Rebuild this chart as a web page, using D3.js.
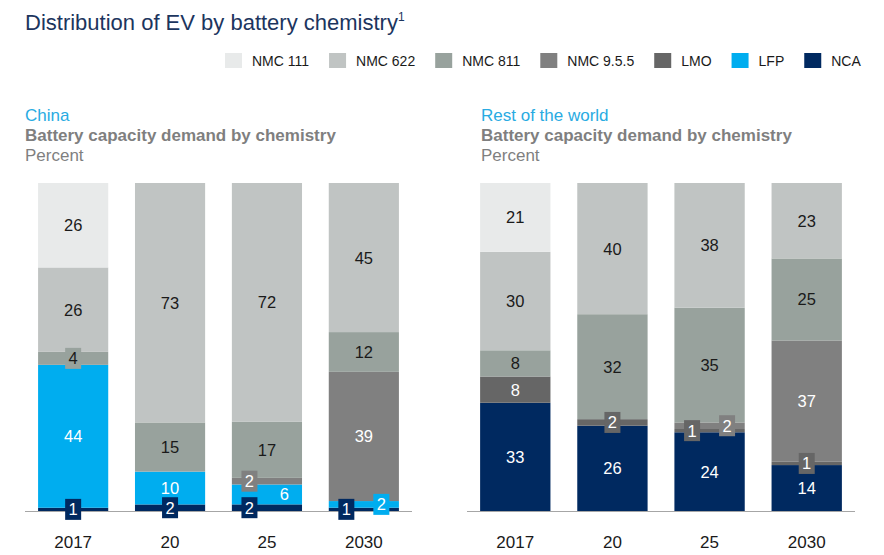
<!DOCTYPE html>
<html><head><meta charset="utf-8">
<script src="https://cdn.jsdelivr.net/npm/d3@7"></script>
<style>
body{margin:0;background:#fff;}
svg{font-family:"Liberation Sans",Arial,sans-serif;}
</style></head>
<body><svg id="c" width="884" height="555"></svg>
<script>
// ---- data ----
const years = ["2017", "20", "25", "2030"];
const chemistries = ["NMC 111", "NMC 622", "NMC 811", "NMC 9.5.5", "LMO", "LFP", "NCA"];
const colors = ["#e8eaea", "#c0c4c3", "#98a29d", "#808080", "#666666", "#00adef", "#002960"];

// China (percent)
const chinaNMC111 = [26, 0, 0, 0];
const chinaNMC622 = [26, 73, 72, 45];
const chinaNMC811 = [4, 15, 17, 12];
const chinaNMC955 = [0, 0, 2, 39];
const chinaLMO    = [0, 0, 0, 0];
const chinaLFP    = [44, 10, 6, 2];
const chinaNCA    = [1, 2, 2, 1];

// Rest of the world (percent)
const rowNMC111 = [21, 0, 0, 0];
const rowNMC622 = [30, 40, 38, 23];
const rowNMC811 = [8, 32, 35, 25];
const rowNMC955 = [0, 0, 2, 37];
const rowLMO    = [8, 2, 1, 1];
const rowLFP    = [0, 0, 0, 0];
const rowNCA    = [33, 26, 24, 14];

// label side placement for crowded segments
const labelSide = {
  "China|25|NMC 9.5.5": -1, "China|25|LFP": 1, "China|25|NCA": -1,
  "China|2030|NCA": -1, "China|2030|LFP": 1,
  "Rest of the world|25|LMO": -1, "Rest of the world|25|NMC 9.5.5": 1
};

const panels = [
  {name: "China", series: [chinaNMC111, chinaNMC622, chinaNMC811, chinaNMC955, chinaLMO, chinaLFP, chinaNCA], x0: 25, x1: 412, tx: 25},
  {name: "Rest of the world", series: [rowNMC111, rowNMC622, rowNMC811, rowNMC955, rowLMO, rowLFP, rowNCA], x0: 467, x1: 855, tx: 481}
];

const svg = d3.select("#c");
const color = d3.scaleOrdinal().domain(chemistries).range(colors);
const darkText = new Set(["NMC 111", "NMC 622", "NMC 811"]);

// title
const t = svg.append("text").attr("x", 25).attr("y", 30).attr("fill", "#1c355e")
  .style("font-size", "22px").text("Distribution of EV by battery chemistry");
t.append("tspan").attr("dy", -9).style("font-size", "12px").text("1");

// legend
let lx = 225;
chemistries.forEach(c => {
  svg.append("rect").attr("x", lx).attr("y", 53).attr("width", 17).attr("height", 15).attr("fill", color(c));
  const tx = svg.append("text").attr("x", lx + 27).attr("y", 66).attr("fill", "#1a1a1a")
    .style("font-size", "14px").text(c);
  lx = lx + 27 + tx.node().getComputedTextLength() + 20;
});

const y = d3.scaleLinear().domain([0, 1]).range([511, 183]);
const stackKeys = chemistries.slice().reverse(); // bottom to top

panels.forEach(p => {
  const g = svg.append("g");
  g.append("text").attr("x", p.tx).attr("y", 121).attr("fill", "#29abe2").style("font-size", "17px").text(p.name);
  g.append("text").attr("x", p.tx).attr("y", 141).attr("fill", "#7f7f7f").style("font-size", "17px")
    .style("font-weight", "bold").text("Battery capacity demand by chemistry");
  g.append("text").attr("x", p.tx).attr("y", 161).attr("fill", "#7f7f7f").style("font-size", "17px").text("Percent");

  const rows = years.map((yr, i) => {
    const o = {year: yr};
    chemistries.forEach((c, k) => o[c] = p.series[k][i]);
    return o;
  });
  const stack = d3.stack().keys(stackKeys).offset(d3.stackOffsetExpand);
  const layers = stack(rows);

  const x = d3.scaleBand().domain(years).range([p.x0, p.x1]).paddingInner(0.276).paddingOuter(0.135);

  layers.forEach(layer => {
    const key = layer.key;
    layer.forEach((d, i) => {
      const v = rows[i][key];
      if (!v) return;
      g.append("rect").attr("x", x(years[i])).attr("width", x.bandwidth())
        .attr("y", y(d[1])).attr("height", y(d[0]) - y(d[1])).attr("fill", color(key));
    });
  });

  // axis line
  g.append("line").attr("x1", p.x0).attr("x2", p.x1).attr("y1", 511.5).attr("y2", 511.5)
    .attr("stroke", "#a6a6a6").attr("stroke-width", 1);

  // labels
  layers.forEach(layer => {
    const key = layer.key;
    layer.forEach((d, i) => {
      const v = rows[i][key];
      if (!v) return;
      const side = labelSide[p.name + "|" + years[i] + "|" + key] || 0;
      const cx = x(years[i]) + x.bandwidth() / 2 + side * 17.5;
      const cy = (y(d[0]) + y(d[1])) / 2;
      const boxed = v <= 4;
      if (boxed) {
        g.append("rect").attr("x", cx - 8).attr("y", cy - 10.5).attr("width", 16).attr("height", 21)
          .attr("fill", color(key));
      }
      g.append("text").attr("x", cx).attr("y", cy + 6).attr("text-anchor", "middle")
        .style("font-size", "16.5px")
        .attr("fill", darkText.has(key) ? "#1a1a1a" : "#ffffff").text(v);
    });
  });

  // x tick labels
  g.selectAll(".tick").data(years).enter().append("text")
    .attr("x", d => x(d) + x.bandwidth() / 2).attr("y", 548).attr("text-anchor", "middle")
    .attr("fill", "#1a1a1a").style("font-size", "17px").text(d => d);
});
</script></body></html>
